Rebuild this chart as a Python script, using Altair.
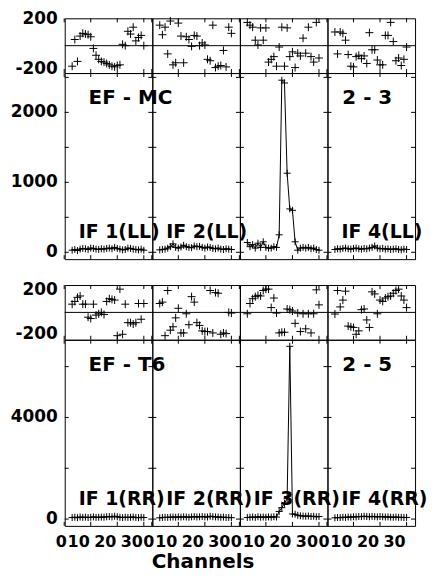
import altair as alt
import pandas as pd

# ---------------- data ----------------
channels = list(range(3, 31))
if_labels_ll = ["IF 1(LL)", "IF 2(LL)", "", "IF 4(LL)"]
if_labels_rr = ["IF 1(RR)", "IF 2(RR)", "IF 3(RR)", "IF 4(RR)"]
baseline_names = ["EF - MC", "EF - T6"]
baseline_nums = ["2 - 3", "2 - 5"]
x_title = "Channels"

# phases (degrees), LL polarisation, baseline EF - MC (2 - 3)
phase_ll_if1 = [-150, 45, -115, 70, 90, 85, 80, 65, -20, -70, -100, -115, -120, -130,
                -140, -150, -155, -145, -140, 10, 0, 105, 85, 135, 35, 60, 75, 0]
phase_ll_if2 = [150, 80, 135, -60, 180, -140, -125, 165, 70, -125, 65, 45, -5, 75,
                70, 0, 20, 5, -100, -110, 150, -160, -150, -145, -35, -155, 135, 90]
phase_ll_if3 = [170, 150, 135, 40, 5, 130, 40, 130, -120, -100, -80, -150, -10, 135,
                -150, 130, -80, -45, -160, -55, -75, 55, -55, 135, -80, -120, 170, -90]
phase_ll_if4 = [100, -60, 100, 90, 40, -65, -150, -155, -80, -70, -95, -75, -130, 95,
                -30, -30, -105, -140, -140, 75, 75, 170, 30, -110, -90, -145, -100, -10]

# amplitudes, LL
amp_ll_if1 = [30, 40, 25, 45, 55, 50, 40, 60, 55, 45, 40, 50, 45, 55,
              60, 50, 70, 55, 45, 35, 40, 60, 55, 45, 40, 35, 45, 30]
amp_ll_if2 = [35, 40, 45, 60, 80, 120, 70, 60, 75, 100, 80, 70, 65, 90,
              80, 85, 70, 60, 75, 70, 55, 50, 60, 45, 40, 50, 45, 40]
amp_ll_if3 = [140, 80, 110, 60, 130, 70, 150, 70, 60, 60, 80, 70, 250, 2460,
              2420, 1130, 620, 600, 150, 30, 60, 70, 60, 70, 50, 60, 40, 30]
amp_ll_if4 = [40, 50, 45, 55, 60, 50, 45, 55, 60, 50, 45, 55, 50, 60,
              70, 90, 60, 50, 55, 45, 50, 40, 45, 50, 40, 35, 45, 40]

# phases, RR polarisation, baseline EF - T6 (2 - 5)
phase_rr_if1 = [60, 80, 110, 120, 60, 60, -35, -45, 60, -20, -10, 0, -15, 80,
                100, 95, 90, -170, 170, -160, 60, -75, -75, -85, -75, 65, -50, 65]
phase_rr_if2 = [65, 75, -170, 160, -130, -105, -40, 30, -150, -150, -10, -90, 115, 75,
                -75, -95, -135, -140, -140, 160, -150, 145, 140, -160, -150, -155, 0, -5]
phase_rr_if3 = [-10, 65, 100, 115, 125, 120, 160, 170, 170, 35, 105, -5, -150, -145,
                -145, 25, 20, 10, -80, -5, -140, -10, -120, -10, -150, -10, 165, 55]
phase_rr_if4 = [-12, 160, 40, 90, 155, -100, -105, -110, -160, -135, 20, 25, -55, -110,
                150, 135, -10, 90, 80, 105, 115, 120, 140, 160, 170, 120, 90, 35]

# amplitudes, RR
amp_rr_if1 = [60, 70, 55, 80, 65, 75, 60, 70, 85, 65, 70, 80, 75, 90,
              100, 85, 110, 90, 70, 60, 75, 65, 70, 80, 60, 55, 70, 60]
amp_rr_if2 = [50, 60, 70, 65, 75, 80, 70, 85, 75, 90, 80, 70, 85, 95,
              80, 90, 100, 85, 80, 110, 95, 85, 80, 70, 75, 60, 65, 55]
amp_rr_if3 = [60, 70, 80, 65, 90, 75, 80, 70, 85, 75, 90, 80, 300, 450,
              620, 800, 6800, 200, 190, 150, 130, 120, 110, 120, 100, 110, 90, 100]
amp_rr_if4 = [50, 60, 55, 70, 65, 80, 75, 90, 85, 100, 95, 110, 100, 90,
              105, 95, 85, 100, 90, 80, 85, 75, 70, 80, 65, 70, 60, 65]

x_ticks = [0, 10, 20, 30]
phase_labels = [200, -200]
amp_ticks_ll = [0, 500, 1000, 1500, 2000, 2500]
amp_labels_ll = [0, 1000, 2000]
amp_ticks_rr = [0, 2000, 4000, 6000]
amp_labels_rr = [0, 4000]

# ---------------- style ----------------
FONT = "DejaVu Sans"
W, HP, HA, GAP = 88, 55, 187, 26
TK = 4
CROSS = "M-1,0L1,0M0,-1L0,1"

xs = alt.Scale(domain=[0.2, 33.2], nice=False, zero=False)
ps = alt.Scale(domain=[-200, 200], nice=False, zero=False)
as_ll = alt.Scale(domain=[-98, 2562], nice=False, zero=False)
as_rr = alt.Scale(domain=[-268, 7057], nice=False, zero=False)


def tick_layers(yscale, yticks, H):
    layers = []
    xt = pd.DataFrame({"t": x_ticks})
    for y0, y1 in [(0, TK), (H - TK, H)]:
        layers.append(alt.Chart(xt).mark_rule(color="black", strokeWidth=1).encode(
            x=alt.X("t:Q", scale=xs, axis=None), y=alt.value(y0), y2=alt.value(y1)))
    if yticks:
        yt = pd.DataFrame({"t": yticks})
        for x0, x1 in [(0, TK), (W - TK, W)]:
            layers.append(alt.Chart(yt).mark_rule(color="black", strokeWidth=1).encode(
                y=alt.Y("t:Q", scale=yscale, axis=None), x=alt.value(x0), x2=alt.value(x1)))
    return layers


def y_label_layers(values, yscale, offsets):
    layers = []
    for v, off in zip(values, offsets):
        layers.append(alt.Chart(pd.DataFrame({"v": [v], "s": [str(v)]})).mark_text(
            font=FONT, fontWeight="bold", fontSize=17, align="right", baseline="middle",
            dy=off, color="black").encode(
            x=alt.value(-7), y=alt.Y("v:Q", scale=yscale, axis=None), text="s:N"))
    return layers


def x_label_layers(with_title):
    layers = []
    for t in x_ticks:
        align, dx = ("center", -3) if t == 0 else ("right", -1)
        layers.append(alt.Chart(pd.DataFrame({"t": [t], "s": [str(t)]})).mark_text(
            font=FONT, fontWeight="bold", fontSize=16, align=align, baseline="top",
            dx=dx, color="black").encode(
            x=alt.X("t:Q", scale=xs, axis=None), y=alt.value(HA + 8), text="s:N"))
    if with_title:
        layers.append(alt.Chart(pd.DataFrame({"s": [x_title]})).mark_text(
            font=FONT, fontWeight="bold", fontSize=20, align="center",
            baseline="alphabetic", color="black").encode(
            x=alt.value(51), y=alt.value(HA + 42), text="s:N"))
    return layers


def phase_panel(vals, col, offsets):
    df = pd.DataFrame({"ch": channels, "ph": vals})
    pts = alt.Chart(df).mark_point(shape=CROSS, size=64, color="black", filled=False,
                                   opacity=1, strokeWidth=1).encode(
        x=alt.X("ch:Q", scale=xs, axis=None),
        y=alt.Y("ph:Q", scale=ps, axis=None))
    zero = alt.Chart(pd.DataFrame({"z": [0]})).mark_rule(color="black", strokeWidth=1).encode(
        y=alt.Y("z:Q", scale=ps, axis=None))
    layers = [pts, zero] + tick_layers(ps, None, HP)
    if col == 0:
        layers += y_label_layers(phase_labels, ps, offsets)
    return alt.layer(*layers).properties(width=W, height=HP)


def amp_panel(vals, col, ys, yticks, ylabels, bottom, texts):
    df = pd.DataFrame({"ch": channels, "amp": vals})
    line = alt.Chart(df).mark_line(color="black", strokeWidth=1).encode(
        x=alt.X("ch:Q", scale=xs, axis=None),
        y=alt.Y("amp:Q", scale=ys, axis=None))
    pts = alt.Chart(df).mark_point(shape=CROSS, size=49, color="black", filled=False,
                                   opacity=1, strokeWidth=1).encode(
        x=alt.X("ch:Q", scale=xs, axis=None),
        y=alt.Y("amp:Q", scale=ys, axis=None))
    layers = [line, pts] + tick_layers(ys, yticks, HA)
    if col == 0:
        layers += y_label_layers(ylabels, ys, [0] * len(ylabels))
    if bottom:
        layers += x_label_layers(col == 1)
    for s, px, py, align, fs in texts:
        if not s:
            continue
        layers.append(alt.Chart(pd.DataFrame({"s": [s]})).mark_text(
            font=FONT, fontWeight="bold", fontSize=fs, align=align,
            baseline="alphabetic", color="black").encode(
            text="s:N", x=alt.value(px), y=alt.value(py)))
    return alt.layer(*layers).properties(width=W, height=HA)


def spacer():
    return alt.Chart(pd.DataFrame({"s": [""]})).mark_text().encode(
        text="s:N").properties(width=W, height=GAP,
                               view=alt.ViewBackground(strokeOpacity=0))


def group(phases, amps, ys, yticks, ylabels, if_labels, name, num, ph_offsets, bottom, if_y):
    panels = [phase_panel(phases[i], i, ph_offsets) for i in range(4)]
    for i in range(4):
        texts = [(if_labels[i], 14, if_y, "left", 19)]
        if i == 0:
            texts.append((name, 24, 31, "left", 20))
        if i == 3:
            texts.append((num, W - 23, 31, "right", 20))
        panels.append(amp_panel(amps[i], i, ys, yticks, ylabels, bottom, texts))
    return panels


g1 = group([phase_ll_if1, phase_ll_if2, phase_ll_if3, phase_ll_if4],
           [amp_ll_if1, amp_ll_if2, amp_ll_if3, amp_ll_if4],
           as_ll, amp_ticks_ll, amp_labels_ll, if_labels_ll,
           baseline_names[0], baseline_nums[0], [1, -4], False, HA - 21)
g2 = group([phase_rr_if1, phase_rr_if2, phase_rr_if3, phase_rr_if4],
           [amp_rr_if1, amp_rr_if2, amp_rr_if3, amp_rr_if4],
           as_rr, amp_ticks_rr, amp_labels_rr, if_labels_rr,
           baseline_names[1], baseline_nums[1], [5, -6], True, HA - 21)

cells = g1 + [spacer() for _ in range(4)] + g2

chart = alt.concat(*cells, columns=4, spacing=0, bounds="flush").properties(
    padding={"left": 2, "top": 0, "right": -2, "bottom": 0},
    background="white",
).configure_view(stroke="black", strokeWidth=1)

chart.save("out.html", embed_options={"renderer": "svg", "actions": False})
